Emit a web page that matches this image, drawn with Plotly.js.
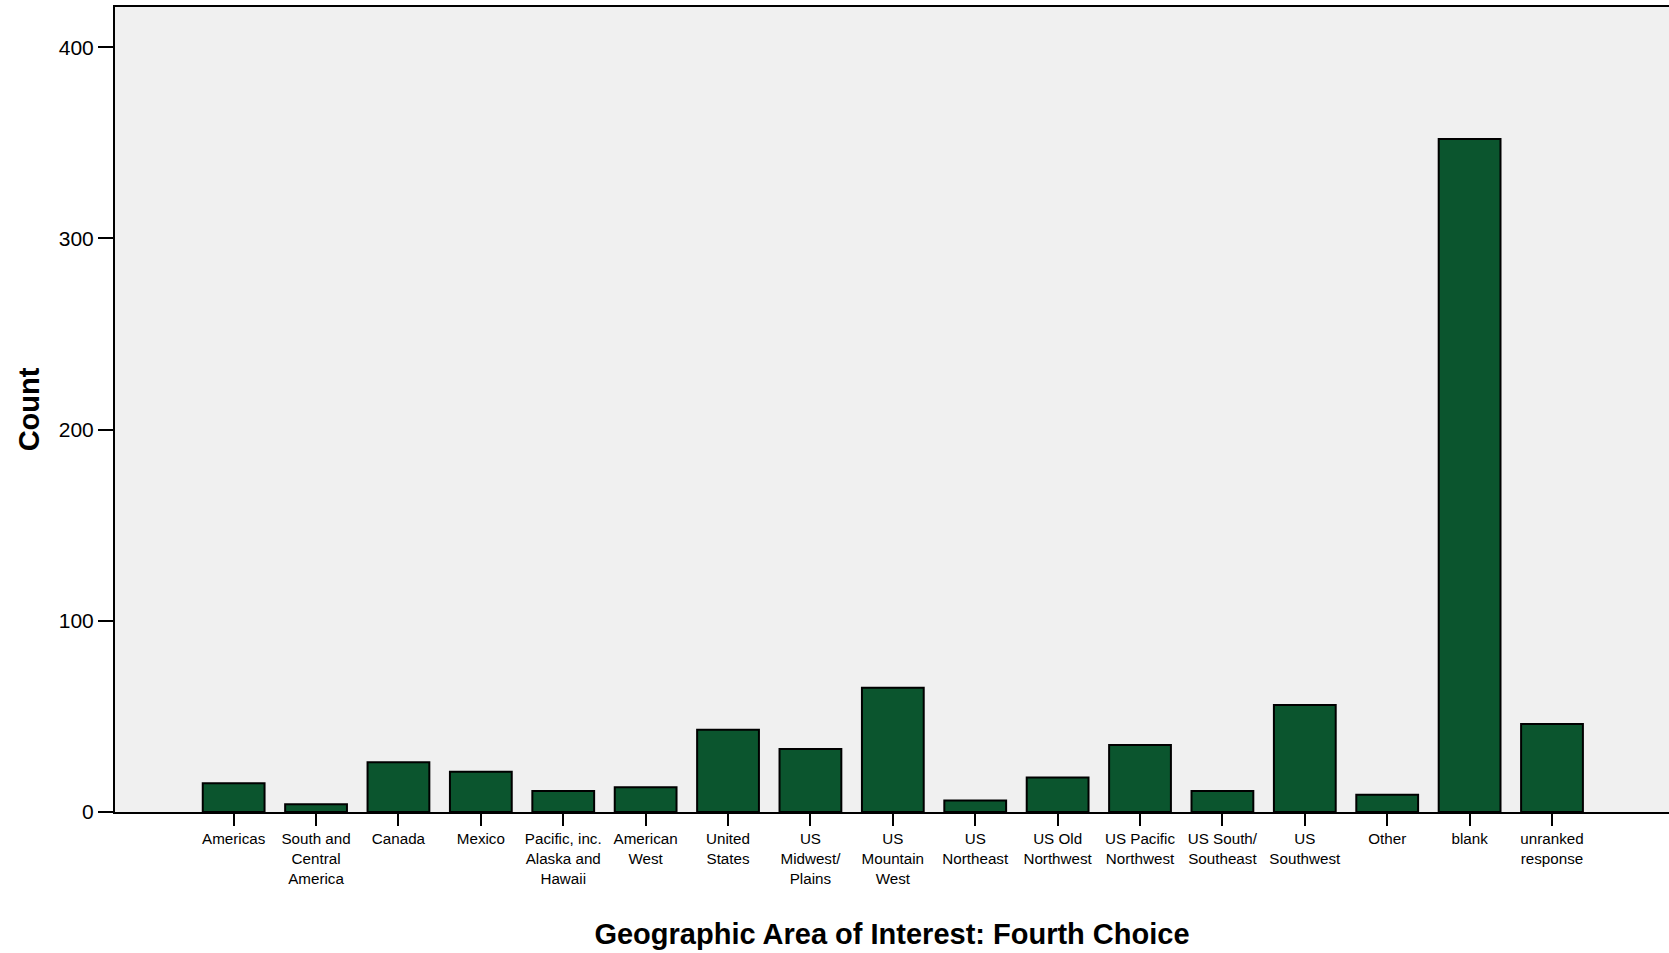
<!DOCTYPE html>
<html>
<head>
<meta charset="utf-8">
<script src="https://cdn.plot.ly/plotly-3.0.1.min.js"></script>
<style>
  html, body { margin: 0; padding: 0; background: #ffffff; }
  #chart { width: 1669px; height: 953px; }
</style>
</head>
<body>
<div id="chart"></div>
<script>
const categories = [
  "Americas",
  "South and<br>Central<br>America",
  "Canada",
  "Mexico",
  "Pacific, inc.<br>Alaska and<br>Hawaii",
  "American<br>West",
  "United<br>States",
  "US<br>Midwest/<br>Plains",
  "US<br>Mountain<br>West",
  "US<br>Northeast",
  "US Old<br>Northwest",
  "US Pacific<br>Northwest",
  "US South/<br>Southeast",
  "US<br>Southwest",
  "Other",
  "blank",
  "unranked<br>response"
];
const counts = [15, 4, 26, 21, 11, 13, 43, 33, 65, 6, 18, 35, 11, 56, 9, 352, 46];
const yTickValues = [0, 100, 200, 300, 400];
const yTickLabels = ["0", "100", "200", "300", "400"];
const xTitle = "Geographic Area of Interest: Fourth Choice";
const yTitle = "Count";

const positions = categories.map((c, i) => i);

const trace = {
  type: "bar",
  x: positions,
  y: counts,
  width: 0.75,
  marker: {
    color: "#0b552e",
    line: { color: "#000000", width: 2 }
  },
  hoverinfo: "y"
};

const layout = {
  width: 1669,
  height: 953,
  margin: { l: 115, r: 0, t: 7, b: 141, pad: 0 },
  paper_bgcolor: "#ffffff",
  plot_bgcolor: "#f0f0f0",
  showlegend: false,
  font: { family: "Liberation Sans, Arial, sans-serif", color: "#000000" },
  xaxis: {
    range: [-1.44, 17.42],
    tickmode: "array",
    tickvals: positions,
    ticktext: categories,
    ticks: "outside",
    ticklen: 12,
    tickwidth: 2,
    tickcolor: "#000000",
    tickfont: { size: 15.2, color: "#000000" },
    showline: true,
    linecolor: "#000000",
    linewidth: 2,
    mirror: true,
    showgrid: false,
    zeroline: false,
    fixedrange: true,
    automargin: false,
    title: { text: "<b>" + xTitle + "</b>", font: { size: 29, color: "#000000" }, standoff: 38 }
  },
  yaxis: {
    range: [0, 421],
    tickmode: "array",
    tickvals: yTickValues,
    ticktext: yTickLabels,
    ticks: "outside",
    ticklen: 15,
    tickwidth: 2,
    tickcolor: "#000000",
    tickfont: { size: 21, color: "#000000" },
    showline: true,
    linecolor: "#000000",
    linewidth: 2,
    showgrid: false,
    zeroline: false,
    fixedrange: true,
    automargin: false,
    title: { text: "<b>" + yTitle + "</b>", font: { size: 29, color: "#000000" }, standoff: 11 }
  }
};

Plotly.newPlot("chart", [trace], layout, { displayModeBar: false, staticPlot: true });
</script>
</body>
</html>
